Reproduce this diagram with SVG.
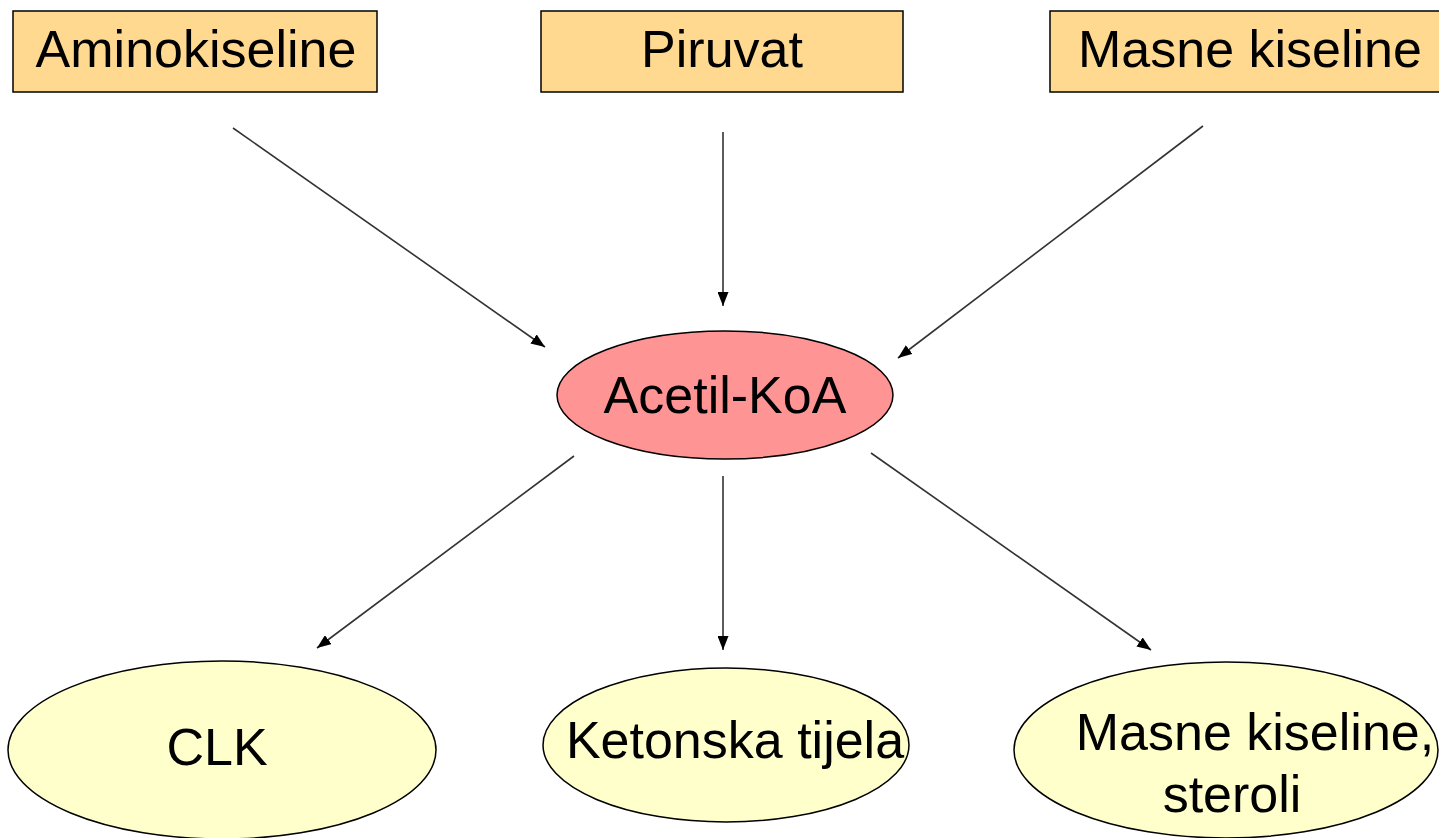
<svg xmlns="http://www.w3.org/2000/svg" width="1439" height="838" viewBox="0 0 1439 838">
<style>
.box{fill:#FFD990;stroke:#000;stroke-width:1.5}
.acetil{fill:#FF9494;stroke:#000;stroke-width:1.5}
.prod{fill:#FFFFCC;stroke:#000;stroke-width:1.5}
text{font-family:"Liberation Sans",Arial,sans-serif;font-size:52px;fill:#000;text-anchor:middle}
.conn line{stroke:#333;stroke-width:1.6;marker-end:url(#arr)}
</style>
<defs>
<marker id="arr" viewBox="0 0 10 10" refX="10" refY="5" markerWidth="14" markerHeight="11" markerUnits="userSpaceOnUse" orient="auto" preserveAspectRatio="none">
<path d="M0,0 L10,5 L0,10 Z" fill="#000"/>
</marker>
</defs>
<rect width="1439" height="838" fill="#fff"/>
<g id="aminokiseline"><rect class="box" x="13" y="11" width="364" height="81"/><text x="196" y="67">Aminokiseline</text></g>
<g id="piruvat"><rect class="box" x="541" y="11" width="362" height="81"/><text x="722" y="67">Piruvat</text></g>
<g id="masne-kiseline-top"><rect class="box" x="1050" y="11" width="400" height="81"/><text x="1250" y="67">Masne kiseline</text></g>
<g id="acetil-koa"><ellipse class="acetil" cx="725" cy="395" rx="168" ry="64"/><text x="725" y="413">Acetil-KoA</text></g>
<g id="clk"><ellipse class="prod" cx="222" cy="750" rx="214" ry="89"/><text x="217" y="765">CLK</text></g>
<g id="ketonska-tijela"><ellipse class="prod" cx="726" cy="745" rx="183" ry="77"/><text x="735" y="758">Ketonska tijela</text></g>
<g id="masne-kiseline-steroli"><ellipse class="prod" cx="1226" cy="750" rx="212" ry="88"/><text x="1255" y="750">Masne kiseline,</text><text x="1232" y="812">steroli</text></g>
<g class="conn" id="connectors">
<line x1="233" y1="128" x2="545" y2="347"/>
<line x1="723" y1="132" x2="723" y2="306"/>
<line x1="1203" y1="126" x2="898" y2="358"/>
<line x1="574" y1="456" x2="317" y2="648"/>
<line x1="723" y1="476" x2="723" y2="650"/>
<line x1="871" y1="453" x2="1151" y2="650"/>
</g>
</svg>
